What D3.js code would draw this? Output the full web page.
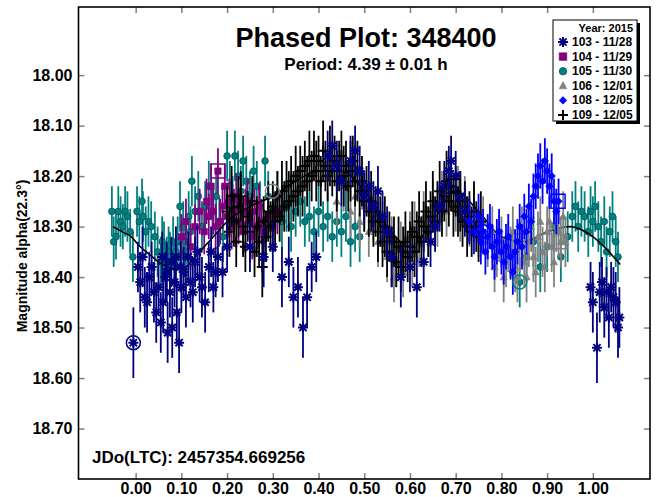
<!DOCTYPE html>
<html>
<head>
<meta charset="utf-8">
<script src="https://cdn.jsdelivr.net/npm/d3@7"></script>
<style>
  body { margin: 0; background: #fff; }
  svg { display: block; }
  text { font-family: "Liberation Sans", Arial, sans-serif; font-weight: bold; fill: #000; }
</style>
</head>
<body>
<svg id="chart" width="656" height="497"></svg>
<script>
'use strict';

// [phase, magnitude, error]
const s103 = [
  [-0.005,18.53,0.07],[0.005,18.38,0.05],[0.010,18.41,0.06],[0.015,18.36,0.06],[0.020,18.44,0.06],
  [0.025,18.45,0.06],[0.030,18.40,0.05],[0.035,18.38,0.05],[0.040,18.43,0.06],[0.045,18.47,0.06],
  [0.050,18.42,0.05],[0.055,18.49,0.06],[0.058,18.36,0.05],[0.060,18.45,0.06],[0.065,18.40,0.05],
  [0.068,18.39,0.06],[0.070,18.51,0.06],[0.075,18.43,0.05],[0.078,18.37,0.05],[0.080,18.50,0.06],
  [0.085,18.41,0.05],[0.088,18.36,0.06],[0.090,18.47,0.06],[0.095,18.53,0.06],[0.098,18.38,0.05],
  [0.100,18.42,0.05],[0.105,18.39,0.05],[0.110,18.44,0.06],[0.115,18.36,0.05],[0.120,18.41,0.05],
  [0.125,18.43,0.06],[0.130,18.37,0.05],[0.135,18.35,0.05],[0.140,18.40,0.05],[0.145,18.42,0.06],
  [0.152,18.45,0.06],[0.160,18.38,0.05],[0.165,18.35,0.05],[0.170,18.42,0.05],[0.175,18.39,0.05],
  [0.180,18.36,0.05],[0.190,18.39,0.05],[0.200,18.34,0.05],
  [0.250,18.34,0.05],[0.280,18.36,0.06],[0.300,18.34,0.05],[0.320,18.40,0.06],[0.335,18.37,0.05],
  [0.345,18.44,0.06],[0.355,18.42,0.06],[0.366,18.50,0.06],[0.375,18.44,0.06],[0.385,18.38,0.05],
  [0.395,18.36,0.05],
  [0.420,18.16,0.05],[0.430,18.14,0.05],[0.440,18.18,0.05],[0.450,18.21,0.05],[0.470,18.17,0.05],
  [0.480,18.15,0.05],[0.490,18.19,0.05],[0.500,18.24,0.05],[0.510,18.22,0.05],[0.520,18.26,0.05],
  [0.530,18.23,0.05],[0.540,18.28,0.05],[0.550,18.31,0.05],
  [0.560,18.36,0.06],[0.580,18.40,0.06],[0.600,18.38,0.05],[0.615,18.42,0.06],[0.630,18.37,0.05],
  [0.645,18.33,0.05],[0.655,18.30,0.05],[0.665,18.26,0.05],[0.675,18.22,0.05],[0.685,18.19,0.05],
  [0.690,18.17,0.05],[0.700,18.20,0.05],[0.710,18.24,0.05],[0.720,18.27,0.05],
  [0.995,18.42,0.05],[1.000,18.45,0.06],[1.009,18.54,0.07],[1.015,18.43,0.06],[1.020,18.41,0.05],
  [1.025,18.46,0.06],[1.030,18.43,0.05],[1.035,18.48,0.06],[1.040,18.42,0.05],[1.045,18.44,0.06],
  [1.050,18.45,0.06],[1.055,18.50,0.06],[1.058,18.48,0.06]
];

const s104 = [
  [0.100,18.32,0.045],[0.110,18.29,0.045],[0.120,18.34,0.045],[0.130,18.30,0.045],[0.140,18.27,0.045],
  [0.150,18.31,0.045],[0.155,18.25,0.045],[0.160,18.28,0.045],[0.165,18.22,0.045],[0.170,18.27,0.045],
  [0.175,18.30,0.045],[0.180,18.19,0.045],[0.185,18.29,0.045],[0.190,18.26,0.045],[0.195,18.22,0.045],
  [0.200,18.28,0.045],[0.205,18.25,0.045],[0.210,18.30,0.045],[0.215,18.27,0.045],[0.220,18.24,0.045],
  [0.225,18.29,0.045],[0.230,18.26,0.045],[0.235,18.31,0.045],[0.240,18.27,0.045],[0.245,18.25,0.045],
  [0.250,18.29,0.045],[0.255,18.32,0.045],[0.260,18.27,0.045],[0.265,18.30,0.045],[0.270,18.26,0.045],
  [0.275,18.29,0.045],[0.280,18.31,0.045],[0.290,18.28,0.045],[0.300,18.30,0.045],[0.310,18.27,0.045]
];

const s105 = [
  [-0.052,18.27,0.05],[-0.048,18.33,0.05],[-0.043,18.32,0.045],[-0.038,18.27,0.05],[-0.033,18.29,0.05],
  [-0.028,18.30,0.045],[-0.023,18.27,0.05],[-0.018,18.28,0.05],[-0.012,18.31,0.045],[-0.006,18.36,0.05],
  [0.003,18.27,0.05],[0.008,18.29,0.05],[0.014,18.25,0.045],[0.016,18.28,0.05],[0.022,18.31,0.05],
  [0.028,18.29,0.05],[0.034,18.30,0.05],[0.042,18.32,0.05],[0.048,18.35,0.05],[0.055,18.37,0.05],
  [0.058,18.33,0.05],[0.062,18.34,0.05],[0.068,18.37,0.05],[0.072,18.35,0.05],[0.075,18.36,0.05],
  [0.082,18.33,0.05],[0.085,18.38,0.05],[0.088,18.35,0.05],[0.092,18.33,0.05],[0.097,18.26,0.05],
  [0.100,18.36,0.05],[0.104,18.30,0.05],[0.108,18.35,0.05],[0.110,18.33,0.05],[0.116,18.28,0.05],
  [0.120,18.31,0.05],[0.123,18.21,0.05],
  [0.130,18.27,0.05],[0.137,18.24,0.05],[0.145,18.30,0.05],[0.152,18.26,0.05],[0.160,18.22,0.05],
  [0.168,18.27,0.05],[0.176,18.24,0.05],[0.183,18.29,0.05],[0.191,18.32,0.05],[0.200,18.16,0.05],
  [0.206,18.22,0.05],[0.212,18.25,0.05],[0.217,18.16,0.05],[0.224,18.20,0.05],[0.230,18.23,0.05],
  [0.235,18.17,0.05],[0.242,18.21,0.05],[0.250,18.24,0.05],[0.258,18.19,0.05],[0.265,18.22,0.05],
  [0.272,18.26,0.05],[0.283,18.17,0.05],[0.290,18.24,0.05],
  [0.300,18.27,0.05],[0.310,18.24,0.05],[0.320,18.29,0.05],[0.330,18.26,0.05],[0.340,18.30,0.05],
  [0.350,18.27,0.05],[0.360,18.25,0.05],[0.370,18.29,0.05],[0.380,18.28,0.05],[0.390,18.31,0.05],
  [0.400,18.27,0.05],[0.410,18.30,0.05],[0.420,18.28,0.05],[0.430,18.32,0.05],[0.440,18.29,0.05],
  [0.450,18.31,0.05],[0.460,18.28,0.05],[0.470,18.33,0.05],[0.480,18.30,0.05],[0.490,18.32,0.05],
  [0.840,18.41,0.05],[0.855,18.36,0.05],[0.870,18.33,0.05],[0.885,18.38,0.05],[0.900,18.34,0.05],
  [0.915,18.30,0.05],[0.930,18.36,0.05],[0.945,18.32,0.05],[0.955,18.28,0.05],[0.962,18.26,0.05],
  [0.968,18.30,0.05],[0.975,18.27,0.05],[0.982,18.28,0.05],[0.990,18.31,0.05],[0.995,18.27,0.05],
  [1.000,18.29,0.05],[1.005,18.26,0.05],[1.012,18.30,0.05],[1.018,18.33,0.05],[1.025,18.29,0.05],
  [1.030,18.35,0.05],[1.037,18.31,0.05],[1.043,18.28,0.05],[1.050,18.33,0.05],[1.055,18.36,0.05]
];

const s106 = [
  [0.440,18.25,0.05],[0.455,18.22,0.05],[0.470,18.27,0.05],[0.480,18.24,0.05],[0.490,18.29,0.05],
  [0.500,18.26,0.05],[0.510,18.31,0.05],[0.520,18.28,0.05],[0.530,18.33,0.05],[0.540,18.30,0.05],
  [0.550,18.36,0.05],[0.560,18.33,0.05],[0.565,18.40,0.05],[0.570,18.37,0.05],[0.580,18.34,0.05],
  [0.585,18.39,0.05],[0.590,18.35,0.05],[0.600,18.32,0.05],[0.605,18.37,0.05],[0.610,18.30,0.05],
  [0.620,18.33,0.05],[0.630,18.28,0.05],[0.640,18.31,0.05],[0.650,18.26,0.05],[0.660,18.29,0.05],
  [0.670,18.24,0.05],[0.680,18.27,0.05],[0.690,18.22,0.05],[0.700,18.26,0.05],[0.705,18.23,0.05],
  [0.710,18.28,0.05],[0.720,18.25,0.05],[0.730,18.29,0.05],[0.740,18.27,0.05],[0.750,18.31,0.05],
  [0.760,18.29,0.05],[0.770,18.33,0.05],[0.780,18.31,0.05],[0.785,18.38,0.05],[0.790,18.35,0.05],
  [0.795,18.32,0.05],[0.800,18.33,0.05],[0.805,18.40,0.05],[0.810,18.37,0.05],[0.815,18.34,0.05],
  [0.820,18.35,0.05],[0.825,18.31,0.05],[0.830,18.38,0.05],[0.835,18.40,0.05],[0.840,18.34,0.05],
  [0.845,18.31,0.05],[0.850,18.37,0.05],[0.855,18.40,0.05],[0.860,18.33,0.05],[0.865,18.30,0.05],
  [0.870,18.36,0.05],[0.875,18.39,0.05],[0.880,18.32,0.05],[0.885,18.29,0.05],[0.890,18.35,0.05],
  [0.895,18.38,0.05],[0.900,18.31,0.05],[0.905,18.29,0.05],[0.910,18.34,0.05],[0.915,18.37,0.05],
  [0.920,18.30,0.05],[0.925,18.31,0.05],[0.930,18.33,0.05],[0.935,18.28,0.05],[0.940,18.33,0.05]
];

const s108 = [
  [0.730,18.29,0.045],[0.740,18.31,0.045],[0.750,18.28,0.045],[0.755,18.33,0.045],[0.760,18.31,0.045],
  [0.765,18.35,0.045],[0.770,18.32,0.045],[0.775,18.30,0.045],[0.780,18.34,0.045],[0.785,18.36,0.045],
  [0.790,18.33,0.045],[0.795,18.31,0.045],[0.800,18.35,0.045],[0.805,18.37,0.045],[0.810,18.34,0.045],
  [0.815,18.32,0.045],[0.820,18.36,0.045],[0.825,18.39,0.045],[0.830,18.35,0.045],[0.835,18.33,0.045],
  [0.840,18.30,0.045],[0.845,18.34,0.045],[0.850,18.28,0.045],[0.855,18.31,0.045],[0.860,18.26,0.045],
  [0.865,18.29,0.045],[0.870,18.24,0.045],[0.875,18.22,0.045],[0.880,18.20,0.045],[0.885,18.18,0.045],
  [0.890,18.21,0.045],[0.895,18.17,0.045],[0.900,18.19,0.045],[0.905,18.22,0.045],[0.910,18.20,0.045],
  [0.915,18.25,0.045],[0.920,18.27,0.045],[0.925,18.25,0.045]
];

const s109 = [
  [0.200,18.27,0.05],[0.205,18.31,0.05],[0.210,18.24,0.06],[0.215,18.29,0.05],[0.220,18.33,0.05],
  [0.225,18.26,0.06],[0.230,18.24,0.05],[0.235,18.30,0.06],[0.240,18.34,0.05],[0.245,18.28,0.05],
  [0.250,18.31,0.06],[0.255,18.25,0.05],[0.260,18.35,0.05],[0.265,18.30,0.06],[0.270,18.33,0.05],
  [0.277,18.38,0.06],[0.280,18.29,0.05],[0.285,18.32,0.05],[0.290,18.27,0.06],[0.295,18.30,0.05],
  [0.300,18.26,0.05],[0.305,18.29,0.06],[0.310,18.24,0.05],[0.315,18.28,0.05],[0.320,18.23,0.06],
  [0.325,18.26,0.05],[0.330,18.22,0.05],[0.335,18.25,0.06],[0.340,18.21,0.05],[0.345,18.24,0.05],
  [0.350,18.20,0.06],[0.355,18.23,0.05],[0.360,18.19,0.05],[0.365,18.22,0.06],[0.370,18.18,0.05],
  [0.375,18.21,0.05],[0.380,18.17,0.06],[0.385,18.20,0.05],[0.390,18.16,0.05],[0.395,18.19,0.06],
  [0.400,18.17,0.05],[0.405,18.21,0.05],[0.410,18.15,0.06],[0.415,18.18,0.05],[0.420,18.20,0.05],
  [0.425,18.16,0.06],[0.430,18.19,0.05],[0.435,18.17,0.05],[0.440,18.21,0.06],[0.445,18.18,0.05],
  [0.450,18.16,0.05],[0.455,18.20,0.06],[0.460,18.18,0.05],[0.465,18.22,0.05],[0.470,18.19,0.06],
  [0.475,18.17,0.05],[0.480,18.21,0.05],[0.485,18.19,0.06],[0.490,18.23,0.05],[0.495,18.21,0.05],
  [0.500,18.25,0.06],[0.505,18.23,0.05],[0.510,18.27,0.05],[0.515,18.25,0.06],[0.520,18.29,0.05],
  [0.525,18.27,0.05],[0.530,18.31,0.06],[0.535,18.29,0.05],[0.540,18.33,0.05],[0.545,18.30,0.06],
  [0.550,18.35,0.05],[0.555,18.32,0.05],[0.560,18.36,0.06],[0.565,18.33,0.05],[0.570,18.37,0.05],
  [0.575,18.34,0.06],[0.580,18.38,0.05],[0.585,18.35,0.05],[0.590,18.33,0.06],[0.595,18.36,0.05],
  [0.600,18.34,0.05],[0.605,18.31,0.06],[0.610,18.35,0.05],[0.615,18.32,0.05],[0.620,18.29,0.06],
  [0.625,18.33,0.05],[0.630,18.30,0.05],[0.635,18.27,0.06],[0.640,18.31,0.05],[0.645,18.28,0.05],
  [0.650,18.25,0.06],[0.655,18.29,0.05],[0.660,18.26,0.05],[0.665,18.23,0.06],[0.670,18.27,0.05],
  [0.675,18.24,0.05],[0.680,18.21,0.06],[0.685,18.25,0.05],[0.690,18.22,0.05],[0.695,18.26,0.06],
  [0.700,18.23,0.05],[0.705,18.27,0.05],[0.710,18.25,0.06],[0.715,18.29,0.05],[0.720,18.26,0.05],
  [0.725,18.30,0.06],[0.730,18.28,0.05],[0.735,18.31,0.05],[0.740,18.27,0.06],[0.745,18.30,0.05],
  [0.750,18.32,0.05],[0.755,18.29,0.06]
];

// fitted curve
const fitPhase = [-0.05,-0.03,-0.01,0.01,0.03,0.05,0.07,0.09,0.11,0.13,0.15,0.17,0.20,0.25,0.30,0.35,0.40,0.45,0.50,0.55,0.60,0.65,0.70,0.75,0.80,0.85,0.90,0.95,1.00,1.03,1.06];
const fitMag   = [18.30,18.31,18.32,18.34,18.355,18.37,18.38,18.385,18.38,18.36,18.34,18.32,18.29,18.26,18.24,18.21,18.19,18.19,18.23,18.30,18.34,18.29,18.23,18.27,18.32,18.33,18.31,18.30,18.32,18.345,18.375];

// first / last point markers of each session: [phase, mag, series, shape]
const sessionMarks = [
  [-0.005,18.53,'103','circle'],[0.18,18.19,'104','square'],[0.213,18.25,'109','circle'],
  [0.299,18.23,'106','circle'],[0.695,18.22,'109','square'],[0.76,18.31,'108','circle'],
  [0.84,18.41,'105','circle'],[0.924,18.25,'108','square'],[0.928,18.33,'106','square']
];

const xTicks = [0, 0.1, 0.2, 0.3, 0.4, 0.5, 0.6, 0.7, 0.8, 0.9, 1.0];
const yTicks = [18.0, 18.1, 18.2, 18.3, 18.4, 18.5, 18.6, 18.7];

const legendTitle = 'Year: 2015';
const legendLabels = ['103 - 11/28', '104 - 11/29', '105 - 11/30', '106 - 12/01', '108 - 12/05', '109 - 12/05'];
const seriesIds = ['103', '104', '105', '106', '108', '109'];

const colors = { '103': '#000080', '104': '#800080', '105': '#008080', '106': '#808080', '108': '#0000ff', '109': '#000000' };
const shapes = { '103': 'asterisk', '104': 'square', '105': 'circle', '106': 'triangle', '108': 'diamond', '109': 'plus' };

const svg = d3.select('#chart');
const margin = { left: 78.5, top: 7, right: 650, bottom: 479 };

const xScale = d3.scaleLinear().domain([-0.125, 1.125]).range([margin.left, margin.right]);
const yScale = d3.scaleLinear().domain([17.865, 18.80]).range([margin.top, margin.bottom]);

function markerPath(shape, r) {
  const a = r * 0.72;
  switch (shape) {
    case 'asterisk':
      return `M${-r},0L${r},0M0,${-r}L0,${r}M${-a},${-a}L${a},${a}M${-a},${a}L${a},${-a}`;
    case 'plus':
      return `M${-r},0L${r},0M0,${-r}L0,${r}`;
    case 'square':
      return `M${-r},${-r}L${r},${-r}L${r},${r}L${-r},${r}Z`;
    case 'triangle':
      return `M0,${-r * 1.1}L${r},${r * 0.8}L${-r},${r * 0.8}Z`;
    case 'diamond':
      return `M0,${-r}L${r},0L0,${r}L${-r},0Z`;
    default:
      return d3.symbol(d3.symbolCircle, Math.PI * r * r)();
  }
}

function styleMarker(sel, id) {
  const shape = shapes[id];
  if (shape === 'asterisk' || shape === 'plus') {
    sel.attr('fill', 'none').attr('stroke', colors[id]).attr('stroke-width', 2);
  } else {
    sel.attr('fill', colors[id]).attr('stroke', shape === 'circle' ? '#004444' : colors[id]).attr('stroke-width', 0.6);
  }
}

const markerSize = { asterisk: 5, plus: 5.5, square: 3.2, triangle: 3.6, diamond: 3.8, circle: 3.4 };

const plot = svg.append('g');

function drawSeries(id, data) {
  const g = plot.append('g').attr('class', 's' + id);
  g.selectAll('line')
    .data(data)
    .enter().append('line')
    .attr('x1', d => xScale(d[0]))
    .attr('x2', d => xScale(d[0]))
    .attr('y1', d => yScale(d[1] - d[2]))
    .attr('y2', d => yScale(d[1] + d[2]))
    .attr('stroke', colors[id])
    .attr('stroke-width', 1.8);
  g.selectAll('path')
    .data(data)
    .enter().append('path')
    .attr('transform', d => `translate(${xScale(d[0])},${yScale(d[1])})`)
    .attr('d', markerPath(shapes[id], markerSize[shapes[id]]))
    .call(styleMarker, id);
}

drawSeries('105', s105);
drawSeries('104', s104);

const fitLine = d3.line()
  .curve(d3.curveMonotoneX)
  .x((d, i) => xScale(fitPhase[i]))
  .y(d => yScale(d));

plot.append('path')
  .datum(fitMag)
  .attr('d', fitLine)
  .attr('fill', 'none')
  .attr('stroke', '#000')
  .attr('stroke-width', 1.6);

drawSeries('106', s106);
drawSeries('109', s109);
drawSeries('108', s108);
drawSeries('103', s103);

plot.selectAll('.session')
  .data(sessionMarks)
  .enter().append('path')
  .attr('class', 'session')
  .attr('transform', d => `translate(${xScale(d[0])},${yScale(d[1])})`)
  .attr('d', d => markerPath(d[3], 7))
  .attr('fill', 'none')
  .attr('stroke', d => colors[d[2]])
  .attr('stroke-width', 1.5);

// axes: ticks inside on all four sides
const xAxisBottom = d3.axisBottom(xScale).tickValues(xTicks).tickFormat(d3.format('.2f')).tickSize(-6).tickPadding(4);
const xAxisTop = d3.axisTop(xScale).tickValues(xTicks).tickFormat('').tickSize(-6);
const yAxisLeft = d3.axisLeft(yScale).tickValues(yTicks).tickFormat(d3.format('.2f')).tickSize(-6).tickPadding(6);
const yAxisRight = d3.axisRight(yScale).tickValues(yTicks).tickFormat('').tickSize(-6);

function styleAxis(g) {
  g.select('.domain').remove();
  g.selectAll('.tick line').attr('stroke', '#808080').attr('stroke-width', 1.5);
  g.selectAll('.tick text').attr('font-size', 16).attr('fill', '#000');
}

svg.append('g').attr('transform', `translate(0,${margin.bottom})`).call(xAxisBottom).call(styleAxis);
svg.append('g').attr('transform', `translate(0,${margin.top})`).call(xAxisTop).call(styleAxis);
svg.append('g').attr('transform', `translate(${margin.left},0)`).call(yAxisLeft).call(styleAxis);
svg.append('g').attr('transform', `translate(${margin.right},0)`).call(yAxisRight).call(styleAxis);

svg.selectAll('.tick text').style('font-family', '"Liberation Sans", Arial, sans-serif').style('font-weight', 'bold');

svg.append('rect')
  .attr('x', margin.left)
  .attr('y', margin.top)
  .attr('width', margin.right - margin.left)
  .attr('height', margin.bottom - margin.top)
  .attr('fill', 'none')
  .attr('stroke', '#000')
  .attr('stroke-width', 1.6);

// titles
svg.append('text').attr('x', 366).attr('y', 47).attr('text-anchor', 'middle').attr('font-size', 27)
  .text('Phased Plot: 348400');
svg.append('text').attr('x', 366).attr('y', 70).attr('text-anchor', 'middle').attr('font-size', 17)
  .text('Period: 4.39 \u00b1 0.01 h');
svg.append('text').attr('transform', 'translate(27,256) rotate(-90)').attr('text-anchor', 'middle').attr('font-size', 14)
  .text('Magnitude alpha(22.3\u00b0)');
svg.append('text').attr('x', 92).attr('y', 463).attr('font-size', 17)
  .text('JDo(LTC): 2457354.669256');

// legend
const legend = svg.append('g').attr('transform', 'translate(553,20)');
const lw = 84, lh = 101;
legend.append('rect').attr('x', 3).attr('y', 3).attr('width', lw).attr('height', lh).attr('fill', '#000');
legend.append('rect').attr('width', lw).attr('height', lh).attr('fill', '#fff').attr('stroke', '#000').attr('stroke-width', 1);
legend.append('text').attr('x', lw - 4).attr('y', 12).attr('text-anchor', 'end').attr('font-size', 11).text(legendTitle);

const rows = legend.selectAll('.row')
  .data(seriesIds)
  .enter().append('g')
  .attr('class', 'row')
  .attr('transform', (d, i) => `translate(0,${26 + i * 14.6})`);

rows.append('path')
  .attr('transform', 'translate(10,-4)')
  .attr('d', d => markerPath(shapes[d], shapes[d] === 'asterisk' || shapes[d] === 'plus' ? 5 : 3.8))
  .each(function (d) { d3.select(this).call(styleMarker, d); });

rows.append('text')
  .attr('x', 19)
  .attr('y', 0)
  .attr('font-size', 12)
  .text((d, i) => legendLabels[i]);
</script>
</body>
</html>
